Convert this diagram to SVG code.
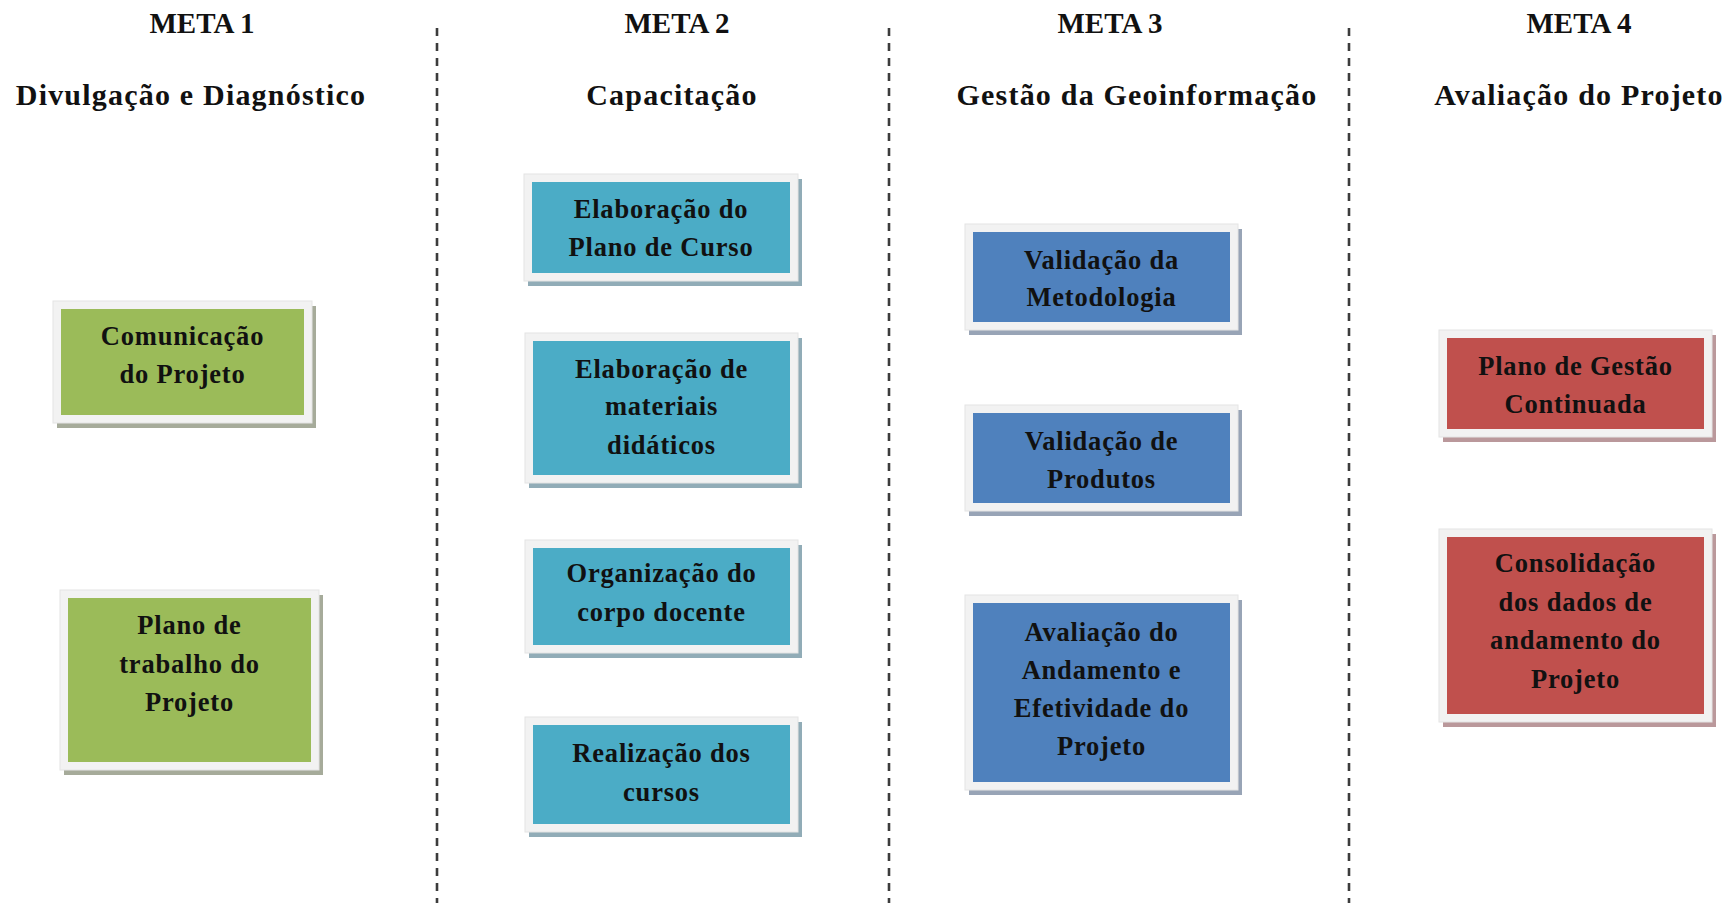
<svg xmlns="http://www.w3.org/2000/svg" width="1731" height="903" viewBox="0 0 1731 903">
<style>
.hd{font-family:"Liberation Serif","Times New Roman",serif;font-weight:bold;fill:#111;text-anchor:middle}
.meta{font-size:29px}
.sub{font-size:30px;letter-spacing:1.2px}
.bt{font-family:"Liberation Serif","Times New Roman",serif;font-weight:bold;font-size:26.5px;letter-spacing:0.8px;fill:#111;text-anchor:middle}
.frame{fill:#f2f2f2;stroke:#e4e4e4;stroke-width:1}
.g{fill:#9bbb59}.gs{fill:#a6ab9a}
.t{fill:#4bacc6}.ts{fill:#91acb7}
.b{fill:#4f81bd}.bs{fill:#98a4b6}
.r{fill:#c0504d}.rs{fill:#ba989b}
.dash{stroke:#3c3c3c;stroke-width:2.6;stroke-dasharray:8 7;fill:none}
</style>
<rect width="1731" height="903" fill="#ffffff"/>
<g id="separators">
<line class="dash" x1="437" y1="28" x2="437" y2="903"/>
<line class="dash" x1="889" y1="28" x2="889" y2="903"/>
<line class="dash" x1="1349" y1="28" x2="1349" y2="903"/>
</g>
<g id="headers">
<text class="hd meta" x="202" y="33">META 1</text>
<text class="hd meta" x="677" y="33">META 2</text>
<text class="hd meta" x="1110" y="33">META 3</text>
<text class="hd meta" x="1579" y="33">META 4</text>
<text class="hd sub" x="191" y="105">Divulgação e Diagnóstico</text>
<text class="hd sub" x="672" y="105">Capacitação</text>
<text class="hd sub" x="1137" y="105">Gestão da Geoinformação</text>
<text class="hd sub" x="1579" y="105">Avaliação do Projeto</text>
</g>
<g id="m1-comunicacao">
<rect class="gs" x="57" y="306" width="259" height="122"/>
<rect class="frame" x="53" y="301" width="259" height="122"/>
<rect class="g" x="61" y="309" width="243" height="106"/>
<text class="bt" x="182.5" y="345">Comunicação</text>
<text class="bt" x="182.5" y="383">do Projeto</text>
</g>
<g id="m1-plano-trabalho">
<rect class="gs" x="64" y="595" width="259" height="180"/>
<rect class="frame" x="60" y="590" width="259" height="180"/>
<rect class="g" x="68" y="598" width="243" height="164"/>
<text class="bt" x="189.5" y="634">Plano de</text>
<text class="bt" x="189.5" y="673">trabalho do</text>
<text class="bt" x="189.5" y="711">Projeto</text>
</g>
<g id="m2-plano-curso">
<rect class="ts" x="528" y="179" width="274" height="107"/>
<rect class="frame" x="524" y="174" width="274" height="107"/>
<rect class="t" x="532" y="182" width="258" height="91"/>
<text class="bt" x="661" y="218">Elaboração do</text>
<text class="bt" x="661" y="256">Plano de Curso</text>
</g>
<g id="m2-materiais">
<rect class="ts" x="529" y="338" width="273" height="150"/>
<rect class="frame" x="525" y="333" width="273" height="150"/>
<rect class="t" x="533" y="341" width="257" height="134"/>
<text class="bt" x="661.5" y="378">Elaboração de</text>
<text class="bt" x="661.5" y="415">materiais</text>
<text class="bt" x="661.5" y="454">didáticos</text>
</g>
<g id="m2-corpo-docente">
<rect class="ts" x="529" y="545" width="273" height="113"/>
<rect class="frame" x="525" y="540" width="273" height="113"/>
<rect class="t" x="533" y="548" width="257" height="97"/>
<text class="bt" x="661.5" y="582">Organização do</text>
<text class="bt" x="661.5" y="621">corpo docente</text>
</g>
<g id="m2-cursos">
<rect class="ts" x="529" y="722" width="273" height="115"/>
<rect class="frame" x="525" y="717" width="273" height="115"/>
<rect class="t" x="533" y="725" width="257" height="99"/>
<text class="bt" x="661.5" y="762">Realização dos</text>
<text class="bt" x="661.5" y="801">cursos</text>
</g>
<g id="m3-metodologia">
<rect class="bs" x="969" y="229" width="273" height="106"/>
<rect class="frame" x="965" y="224" width="273" height="106"/>
<rect class="b" x="973" y="232" width="257" height="90"/>
<text class="bt" x="1101.5" y="269">Validação da</text>
<text class="bt" x="1101.5" y="306">Metodologia</text>
</g>
<g id="m3-produtos">
<rect class="bs" x="969" y="410" width="273" height="106"/>
<rect class="frame" x="965" y="405" width="273" height="106"/>
<rect class="b" x="973" y="413" width="257" height="90"/>
<text class="bt" x="1101.5" y="450">Validação de</text>
<text class="bt" x="1101.5" y="488">Produtos</text>
</g>
<g id="m3-avaliacao">
<rect class="bs" x="969" y="600" width="273" height="195"/>
<rect class="frame" x="965" y="595" width="273" height="195"/>
<rect class="b" x="973" y="603" width="257" height="179"/>
<text class="bt" x="1101.5" y="641">Avaliação do</text>
<text class="bt" x="1101.5" y="679">Andamento e</text>
<text class="bt" x="1101.5" y="717">Efetividade do</text>
<text class="bt" x="1101.5" y="755">Projeto</text>
</g>
<g id="m4-gestao">
<rect class="rs" x="1443" y="335" width="273" height="107"/>
<rect class="frame" x="1439" y="330" width="273" height="107"/>
<rect class="r" x="1447" y="338" width="257" height="91"/>
<text class="bt" x="1575.5" y="375">Plano de Gestão</text>
<text class="bt" x="1575.5" y="413">Continuada</text>
</g>
<g id="m4-consolidacao">
<rect class="rs" x="1443" y="534" width="273" height="193"/>
<rect class="frame" x="1439" y="529" width="273" height="193"/>
<rect class="r" x="1447" y="537" width="257" height="177"/>
<text class="bt" x="1575.5" y="572">Consolidação</text>
<text class="bt" x="1575.5" y="611">dos dados de</text>
<text class="bt" x="1575.5" y="649">andamento do</text>
<text class="bt" x="1575.5" y="688">Projeto</text>
</g>
</svg>
